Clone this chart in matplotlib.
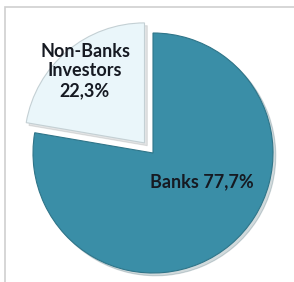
import matplotlib.pyplot as plt
import numpy as np
from matplotlib.patches import Rectangle

labels = ['Banks', 'Non-Banks\nInvestors']
shares = [77.7, 22.3]
explode = [0.0, 0.11]
colors = ['#3a8ea7', '#eaf6fa']

plt.rcParams['font.family'] = ['Lato', 'DejaVu Sans']

fig = plt.figure(figsize=(2.94, 2.82), dpi=100)
ax = fig.add_axes([0, 0, 1, 1])

cx, cy, r = 153, 129, 120
wedges, _ = ax.pie(shares, explode=[e * r for e in explode], colors=colors,
                   startangle=90, counterclock=False, center=(cx, cy), radius=r,
                   frame=True,
                   shadow={'ox': 2, 'oy': -2, 'shade': 0.5, 'alpha': 0.2},
                   wedgeprops=dict(edgecolor='#c4d0d4', linewidth=0.8))
wedges[0].set_edgecolor('#2f7589')
ax.set_xlim(0, 294)
ax.set_ylim(0, 282)
ax.set_aspect('equal')
ax.axis('off')

# frame of the chart area (only top and left edges are visible)
ax.add_patch(Rectangle((5, -20), 320, 295, fill=False, edgecolor='#cfcfcf', lw=1.2))

# labels
fmt = lambda v: f'{v:.1f}'.replace('.', ',') + '%'
ax.text(202, 100, f'{labels[0]} {fmt(shares[0])}', ha='center', va='center',
        fontsize=13, fontweight='bold', color='#161a22')
ax.text(85, 211, f'{labels[1]}\n{fmt(shares[1])}', ha='center', va='center',
        fontsize=13, fontweight='bold', color='#161a22', linespacing=1.2)

fig.savefig('out.png', dpi=100)
